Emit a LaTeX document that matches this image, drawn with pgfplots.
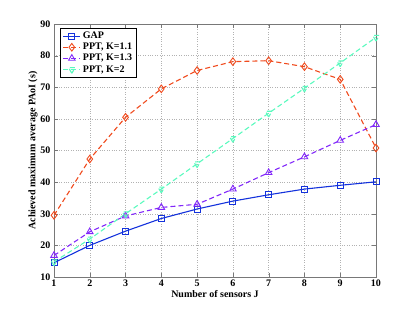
\documentclass[border=0pt]{standalone}
\usepackage{pgfplots}
\pgfplotsset{compat=1.18}
\usepackage{fontspec}
\setmainfont{Liberation Serif}
\definecolor{cgap}{RGB}{20,50,220}
\definecolor{ck11}{RGB}{240,75,30}
\definecolor{ck13}{RGB}{130,40,250}
\definecolor{ck2}{RGB}{90,250,190}
\definecolor{axgray}{RGB}{120,120,120}
\begin{document}
\begin{tikzpicture}[x=1pt,y=1pt]
\begin{axis}[
  at={(0,0)}, anchor=south west,
  scale only axis, width=322pt, height=253pt,
  xmin=1, xmax=10, ymin=10, ymax=90,
  xtick={1,...,10}, ytick={10,20,...,90},
  grid=major,
  major grid style={gray!60, dotted, line width=0.5pt},
  axis line style={axgray, line width=0.8pt},
  tick style={axgray},
  tick align=inside,
  font=\fontsize{10}{12}\selectfont\bfseries,
  /pgf/number format/assume math mode=true,
  xlabel={Number of sensors J},
  ylabel={Achieved maximum average PAoI (s)},
  xlabel style={yshift=3pt},
  ylabel style={yshift=-4pt},
  xticklabel style={yshift=1pt},
  legend style={at={(0.02,0.985)}, anchor=north west, draw=black, line width=0.6pt, font=\fontsize{10}{12}\selectfont\bfseries, row sep=-1pt, inner sep=2pt},
  legend cell align=left,
  every axis plot/.append style={line width=1.1pt, mark size=3pt, mark options={solid, line width=0.9pt, fill=none}},
]
\addplot[cgap, mark=square] coordinates {(1,14.5)(2,20)(3,24.5)(4,28.5)(5,31.5)(6,34)(7,36)(8,37.8)(9,39)(10,40.1)};
\addlegendentry{GAP}
\addplot[ck11, dash pattern=on 5pt off 3pt, mark=diamond, mark size=3.8pt] coordinates {(1,29.5)(2,47.3)(3,60.5)(4,69.5)(5,75.3)(6,78.1)(7,78.4)(8,76.5)(9,72.5)(10,50.8)};
\addlegendentry{PPT, K=1.1}
\addplot[ck13, dash pattern=on 5pt off 3pt, mark=triangle, mark size=3.8pt] coordinates {(1,16.8)(2,24.3)(3,29.3)(4,32)(5,33)(6,37.8)(7,43)(8,48)(9,53.2)(10,58.2)};
\addlegendentry{PPT, K=1.3}
\addplot[ck2, dash pattern=on 5pt off 3pt, mark=triangle, mark size=3.8pt, mark options={rotate=180}] coordinates {(1,14.8)(2,22)(3,30)(4,37.8)(5,45.8)(6,53.8)(7,61.8)(8,69.7)(9,77.7)(10,85.8)};
\addlegendentry{PPT, K=2}
\end{axis}
\path[use as bounding box] (-54,-34) rectangle (361,277);
\end{tikzpicture}
\end{document}
